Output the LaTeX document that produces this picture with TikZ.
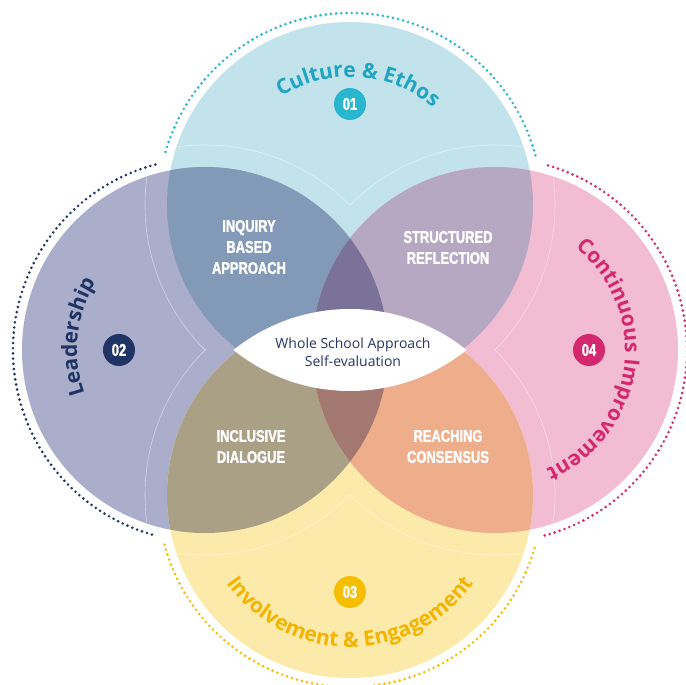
\documentclass[tikz,border=0pt]{standalone}
\usepackage{fontspec}
\setmainfont{Open Sans}
\newfontfamily\lblfont{Open Sans}
\newfontfamily\condfont[FakeStretch=0.76, BoldFeatures={FakeBold=1.6}]{Liberation Sans}
\usetikzlibrary{decorations.text}
\definecolor{cTop}{HTML}{C3E3EC}
\definecolor{cLeft}{HTML}{ABAECB}
\definecolor{cRight}{HTML}{F2BCD3}
\definecolor{cBot}{HTML}{FCEAAA}
\definecolor{cTL}{HTML}{8299B8}
\definecolor{cTR}{HTML}{B6A8C3}
\definecolor{cBL}{HTML}{A9A085}
\definecolor{cBR}{HTML}{EFAE8B}
\definecolor{cTLR}{HTML}{7A7298}
\definecolor{cBLR}{HTML}{A37870}
\definecolor{kTop}{HTML}{29B7D0}
\definecolor{kLeft}{HTML}{1F3465}
\definecolor{kRight}{HTML}{D4286E}
\definecolor{kBot}{HTML}{F5BE00}
\definecolor{tTop}{HTML}{1EA5C2}
\definecolor{tBot}{HTML}{F2B400}
\definecolor{navytext}{HTML}{283560}
\tikzset{
  dotring/.style={line width=2.9pt, dash pattern=on 0pt off 5.2pt, line cap=round},
  faint/.style={draw=white, opacity=0.45, line width=0.6pt},
  badge/.style={circle, minimum size=32pt, inner sep=0pt, text=white,
    font=\condfont\bfseries\fontsize{17}{17}\selectfont},
  zonelabel/.style={text=white, align=center,
    font=\condfont\bfseries\fontsize{17}{21}\selectfont},
}
\newcommand{\curvefont}{\lblfont\bfseries\fontsize{21}{21}\selectfont}
\begin{document}
\begin{tikzpicture}[x=1pt,y=1pt]
\fill[white] (-350,-335) rectangle (336,350);
\useasboundingbox (-350,-335) rectangle (336,350);
\coordinate (T) at (0,145);
\coordinate (L) at (-145,0);
\coordinate (R) at (145,0);
\coordinate (B) at (0,-145);
% base circles
\fill[cTop] (T) circle (183pt);
\fill[cLeft] (L) circle (183pt);
\fill[cRight] (R) circle (183pt);
\fill[cBot] (B) circle (183pt);
% pairwise overlaps
\begin{scope}\clip (T) circle (183pt); \fill[cTL] (L) circle (183pt); \fill[cTR] (R) circle (183pt);\end{scope}
\begin{scope}\clip (B) circle (183pt); \fill[cBL] (L) circle (183pt); \fill[cBR] (R) circle (183pt);\end{scope}
% triple overlaps
\begin{scope}\clip (L) circle (183pt); \clip (R) circle (183pt);
  \fill[cTLR] (T) circle (183pt); \fill[cBLR] (B) circle (183pt);\end{scope}
% faint inner arcs
\begin{scope}\clip (L) circle (183pt); \clip (-400,0) rectangle (400,400); \draw[faint] (T) circle (205pt);\end{scope}
\begin{scope}\clip (L) circle (183pt); \clip (-400,0) rectangle (400,-400); \draw[faint] (B) circle (205pt);\end{scope}
\begin{scope}\clip (R) circle (183pt); \clip (-400,0) rectangle (400,400); \draw[faint] (T) circle (205pt);\end{scope}
\begin{scope}\clip (R) circle (183pt); \clip (-400,0) rectangle (400,-400); \draw[faint] (B) circle (205pt);\end{scope}
\begin{scope}\clip (T) circle (183pt); \clip (-400,-400) rectangle (0,400); \draw[faint] (L) circle (205pt);\end{scope}
\begin{scope}\clip (T) circle (183pt); \clip (0,-400) rectangle (400,400); \draw[faint] (R) circle (205pt);\end{scope}
\begin{scope}\clip (B) circle (183pt); \clip (-400,-400) rectangle (0,400); \draw[faint] (L) circle (205pt);\end{scope}
\begin{scope}\clip (B) circle (183pt); \clip (0,-400) rectangle (400,400); \draw[faint] (R) circle (205pt);\end{scope}
% central white lens
\begin{scope}\clip (T) circle (186pt); \fill[white] (B) circle (186pt);\end{scope}
% dotted outer rings
\draw[dotring, kTop] (T) ++(15:192pt) arc[start angle=15, end angle=165, radius=192pt];
\draw[dotring, kLeft] (L) ++(105:192pt) arc[start angle=105, end angle=255, radius=192pt];
\draw[dotring, kBot] (B) ++(195:192pt) arc[start angle=195, end angle=345, radius=192pt];
\draw[dotring, kRight] (R) ++(-75:192pt) arc[start angle=-75, end angle=75, radius=192pt];
% curved titles
\path[decorate, decoration={text along path, text align=center, text color=tTop,
  text={|\curvefont|Culture {\&} Ethos}}]
  (T) ++(146:128pt) arc[start angle=146, end angle=26, radius=128pt];
\path[decorate, decoration={text along path, text align=center, text color=kLeft,
  text={|\curvefont|Leadership}}]
  (L) ++(230:128pt) arc[start angle=230, end angle=118, radius=128pt];
\path[decorate, decoration={text along path, text align=center, text color=kRight,
  text={|\curvefont|Continuous Improvement}}]
  (R) ++(62:130pt) arc[start angle=62, end angle=-77, radius=130pt];
\path[decorate, decoration={text along path, text align=center, text color=tBot,
  text={|\curvefont|Involvement {\&} Engagement}}]
  (B) ++(200:152pt) arc[start angle=200, end angle=340, radius=152pt];
% badges
\node[badge, fill=kTop] (b1) at (0,246) {01};
\node[badge, fill=kLeft] (b2) at (-231,0) {02};
\node[badge, fill=kBot] (b3) at (0,-242) {03};
\node[badge, fill=kRight] (b4) at (239,0) {04};
% zone labels
\node[zonelabel] (inq) at (-101,103) {INQUIRY\\BASED\\APPROACH};
\node[zonelabel] (str) at (98,102.5) {STRUCTURED\\REFLECTION};
\node[zonelabel] (inc) at (-99,-96.5) {INCLUSIVE\\DIALOGUE};
\node[zonelabel] (rea) at (98,-96.5) {REACHING\\CONSENSUS};
% centre
\node[text=navytext, align=center, font=\lblfont\fontsize{14}{18}\selectfont] (ctr) at (3,-2)
  {Whole School Approach\\Self-evaluation};
\end{tikzpicture}
\end{document}
